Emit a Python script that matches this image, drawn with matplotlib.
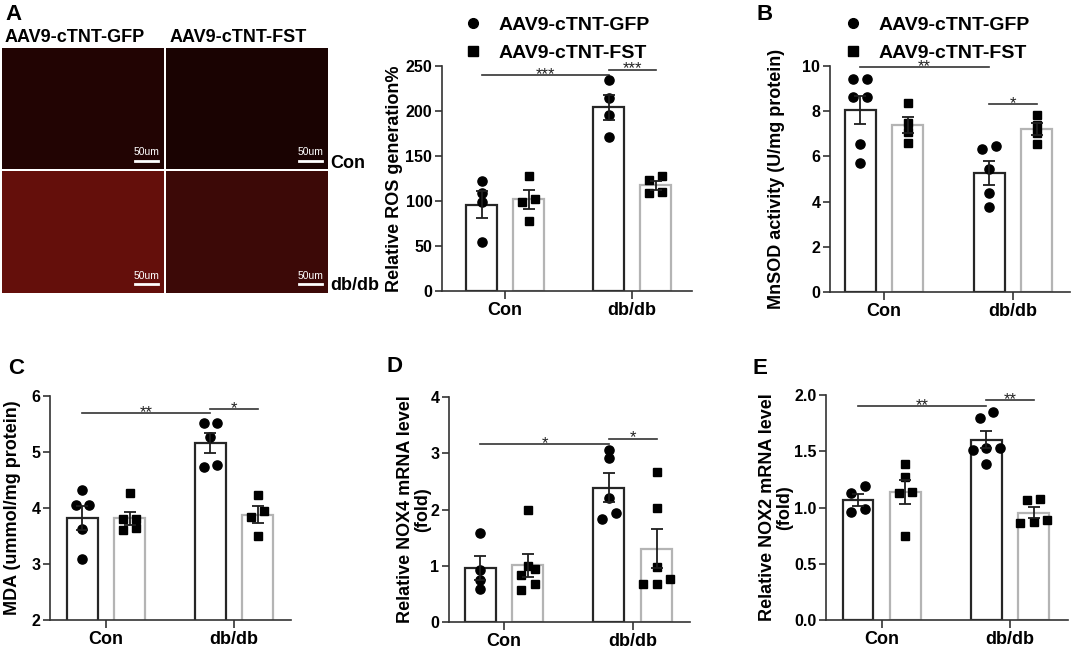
import matplotlib
matplotlib.use("Agg")
import matplotlib.pyplot as plt
from matplotlib.lines import Line2D
import numpy as np

plt.rcParams['font.family'] = ['Liberation Sans', 'DejaVu Sans']
plt.rcParams['font.weight'] = 'bold'

W, H = 1072, 650

groups = ["Con", "db/db"]
series = ["AAV9-cTNT-GFP", "AAV9-cTNT-FST"]

# individual animals: [Con, db/db] for each series
ros_gfp = [[122.6, 109, 98.5, 54], [234, 215, 196, 171]]
ros_fst = [[127.8, 102.6, 99, 78], [127.8, 123, 110, 109]]

mnsod_gfp = [[9.41, 9.41, 8.63, 8.63, 6.54, 5.70], [6.47, 6.33, 5.43, 4.40, 3.78]]
mnsod_fst = [[8.35, 7.5, 7.1, 6.6], [7.85, 7.4, 7.05, 6.55]]

mda_gfp = [[4.32, 4.05, 4.06, 3.62, 3.09], [5.52, 5.52, 5.26, 4.73, 4.77]]
mda_fst = [[4.26, 3.80, 3.80, 3.60, 3.64], [4.24, 3.95, 3.84, 3.50]]

nox4_gfp = [[1.58, 0.93, 0.74, 0.58], [3.05, 2.92, 2.21, 1.93, 1.83]]
nox4_fst = [[2.0, 0.99, 0.95, 0.84, 0.68, 0.57], [2.67, 2.03, 0.98, 0.76, 0.68, 0.68]]

nox2_gfp = [[1.19, 1.13, 0.99, 0.96], [1.85, 1.80, 1.53, 1.53, 1.51, 1.39]]
nox2_fst = [[1.39, 1.27, 1.14, 1.13, 0.75], [1.08, 1.07, 0.89, 0.86, 0.87]]

# significance: (y of long line, stars), (y of short line, stars)
ros_sig = [(240, "***"), (246, "***")]
mnsod_sig = [(9.97, "**"), (8.31, "*")]
mda_sig = [(5.69, "**"), (5.77, "*")]
nox4_sig = [(3.17, "*"), (3.26, "*")]
nox2_sig = [(1.905, "**"), (1.955, "**")]

fig = plt.figure(figsize=(W / 100, H / 100), dpi=100)


def px_axes(l, t, r, b):
    return fig.add_axes([l / W, 1 - b / H, (r - l) / W, (b - t) / H])


def swarm(vals, px_per_unit, step_px=13.5, thresh_px=7):
    vals = np.asarray(vals, float)
    offs = np.zeros(len(vals))
    rows = []
    for i in np.argsort(vals, kind="stable"):
        if rows and (vals[i] - vals[rows[-1][0]]) * px_per_unit < thresh_px:
            rows[-1].append(i)
        else:
            rows.append([i])
    for row in rows:
        n = len(row)
        for k, i in enumerate(row):
            offs[i] = (k - (n - 1) / 2) * step_px
    return offs


def bar_panel(box, gfp, fst, sig, ylim, yticks, ylabel, lab_x, xlim, ticklabels=None):
    l, t, r, b = box
    ax = px_axes(l, t, r, b)
    ax.set_xlim(*xlim)
    ax.set_ylim(*ylim)
    wpx = r - l
    x_per_px = (xlim[1] - xlim[0]) / wpx
    y_px = (b - t) / (ylim[1] - ylim[0])
    off, bw = 0.185, 0.24
    for data, sgn, ec, mk, ms in [(gfp, -1, '#262626', 'o', 6.6), (fst, 1, '#b4b4b4', 's', 6.2)]:
        for gi, pts in enumerate(data):
            pts = np.asarray(pts, float)
            x0 = gi + sgn * off
            m = pts.mean()
            se = pts.std(ddof=1) / np.sqrt(len(pts))
            ax.bar(x0, m, bw, facecolor='white', edgecolor=ec, linewidth=1.6, zorder=1)
            xs = x0 + swarm(pts, y_px) * x_per_px
            ax.plot(xs, pts, mk, color='black', ms=ms, ls='none', zorder=3, clip_on=False)
            ax.errorbar(x0, m, yerr=se, fmt='none', ecolor='#1e1e1e', elinewidth=1.3,
                        capsize=4.6, capthick=1.3, zorder=4)
    # significance lines
    (y1, s1), (y2, s2) = sig
    xa, xb, xc = -off, 1 - off, 1 + off
    for ya, xl, xr, s in [(y1, xa, xb, s1), (y2, xb, xc, s2)]:
        ax.plot([xl, xr], [ya, ya], color='#333333', lw=1.2, zorder=2, clip_on=False)
        ax.text((xl + xr) / 2, ya - 4 / y_px, s, ha='center', va='baseline',
                fontsize=12, fontweight='normal', color='#222222')
    ax.set_xticks([0, 1])
    ax.set_xticklabels(groups, fontsize=13, fontweight='bold')
    ax.set_yticks(yticks)
    if ticklabels is not None:
        ax.set_yticklabels(ticklabels)
    ax.tick_params(axis='y', labelsize=11.5, length=5, width=1.2, color='#333333', pad=2)
    ax.tick_params(axis='x', length=6, width=1.2, color='#333333', pad=2)
    for s in ['top', 'right']:
        ax.spines[s].set_visible(False)
    for s in ['left', 'bottom']:
        ax.spines[s].set_linewidth(1.2)
        ax.spines[s].set_color('#333333')
    ax.set_ylabel(ylabel, fontsize=13, fontweight='bold', linespacing=1.0)
    ax.yaxis.set_label_coords((lab_x - l) / wpx, 0.5)
    return ax


def legend(x_marker, y_top):
    handles = [Line2D([], [], marker='o', color='black', ls='none', ms=7),
               Line2D([], [], marker='s', color='black', ls='none', ms=6.5)]
    fs_px = 14 * 100 / 72
    fig.legend(handles, series, loc='upper left',
               bbox_to_anchor=((x_marker - fs_px / 2) / W, 1 - y_top / H),
               bbox_transform=fig.transFigure, frameon=False,
               handlelength=1.0, handletextpad=0.79, labelspacing=0.56,
               borderpad=0, borderaxespad=0, prop={'weight': 'bold', 'size': 14})


# ---- panel A: micrographs ----
tiles = [((2, 48, 164, 169), '#220403'), ((166, 48, 328, 169), '#1a0302'),
         ((2, 171, 164, 293), '#640f0b'), ((166, 171, 328, 293), '#3c0907')]
for (l, t, r, b), col in tiles:
    ia = px_axes(l, t, r, b)
    ia.set_facecolor(col)
    ia.set_xticks([])
    ia.set_yticks([])
    for s in ia.spines.values():
        s.set_visible(False)
    ia.text(0.89, 0.10, "50um", transform=ia.transAxes, color='white', fontsize=7.5,
            fontweight='normal', ha='center', va='bottom')
    ia.plot([0.82, 0.96], [0.07, 0.07], transform=ia.transAxes, color='white', lw=2)

fig.text(5 / W, 1 - 37 / H, "AAV9-cTNT-GFP", fontsize=13, fontweight='bold', va='center')
fig.text(170 / W, 1 - 37 / H, "AAV9-cTNT-FST", fontsize=13, fontweight='bold', va='center')
fig.text(330 / W, 1 - 163 / H, "Con", fontsize=13, fontweight='bold', va='center')
fig.text(330 / W, 1 - 285 / H, "db/db", fontsize=13, fontweight='bold', va='center')

# ---- bar panels ----
bar_panel((442, 66, 692, 291), ros_gfp, ros_fst, ros_sig, (0, 250), range(0, 251, 50),
          "Relative ROS generation%", 403, (-0.496, 1.472))
bar_panel((830, 66, 1070, 292), mnsod_gfp, mnsod_fst, mnsod_sig, (0, 10), range(0, 11, 2),
          "MnSOD activity (U/mg protein)", 785, (-0.419, 1.442))
bar_panel((50, 396, 291, 620), mda_gfp, mda_fst, mda_sig, (2, 6), range(2, 7),
          "MDA (ummol/mg protein)", 21, (-0.4375, 1.445))
bar_panel((449, 397, 690, 622), nox4_gfp, nox4_fst, nox4_sig, (0, 4), range(0, 5),
          "Relative NOX4 mRNA level\n(fold)", 431, (-0.427, 1.445))
bar_panel((826, 395, 1068, 620), nox2_gfp, nox2_fst, nox2_sig, (0, 2.0), [0, 0.5, 1.0, 1.5, 2.0],
          "Relative NOX2 mRNA level\n(fold)", 793, (-0.434, 1.452),
          ticklabels=["0.0", "0.5", "1.0", "1.5", "2.0"])

legend(473, 16)
legend(853, 16)

for txt, x, y in [("A", 5, 15), ("B", 757, 14), ("C", 8, 368), ("D", 387, 367), ("E", 753, 368)]:
    fig.text(x / W, 1 - y / H, txt, fontsize=16, fontweight='bold', va='center')

fig.savefig("out.png", dpi=100)
